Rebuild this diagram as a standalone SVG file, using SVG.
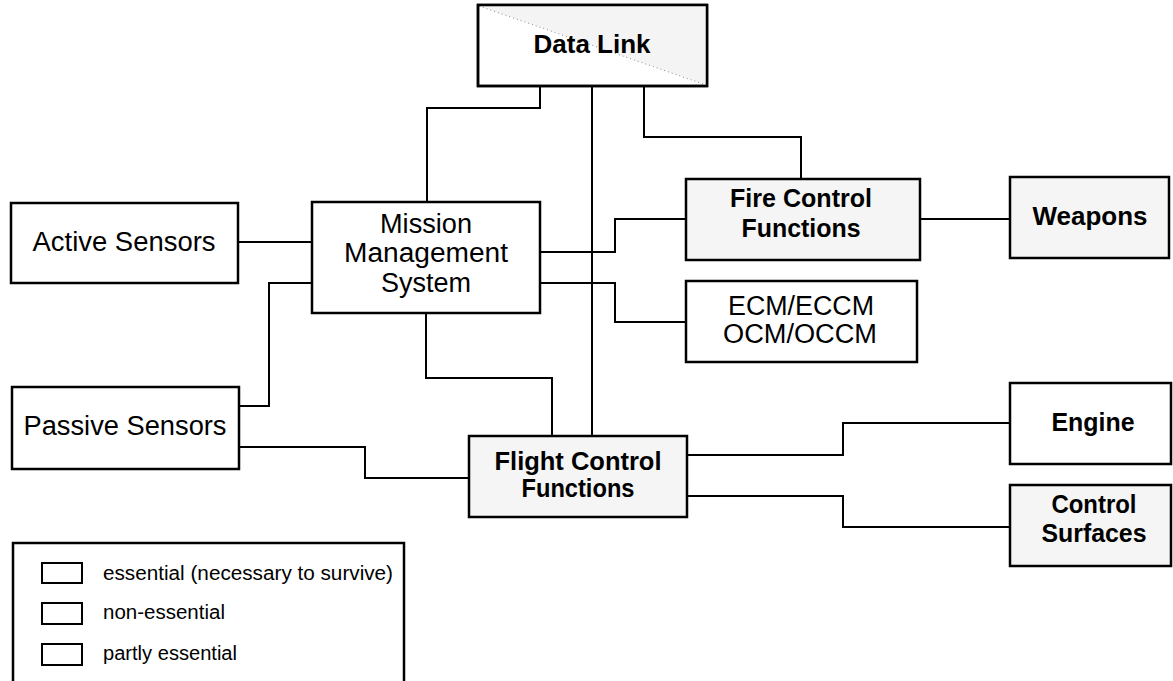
<svg xmlns="http://www.w3.org/2000/svg" width="1173" height="681" viewBox="0 0 1173 681">
  <style>
    .box { fill: #ffffff; stroke: #000000; stroke-width: 2.5; }
    .grey { fill: #f5f5f5; }
    .lbl { font-family: "Liberation Sans", Arial, sans-serif; font-size: 27px; fill: #000000; text-anchor: middle; }
    .bold { font-weight: bold; font-size: 25px; }
    .leg { font-family: "Liberation Sans", Arial, sans-serif; font-size: 20px; fill: #000000; }
    .wire { fill: none; stroke: #000000; stroke-width: 2; }
  </style>

  <rect x="0" y="0" width="1173" height="681" fill="#ffffff"/>

  <!-- connectors -->
  <g id="connectors">
    <path class="wire" d="M238,242 H312"/>
    <path class="wire" d="M239,406 H269 V283 H312"/>
    <path class="wire" d="M239,447 H365 V478 H469"/>
    <path class="wire" d="M540,252 H615 V219 H686"/>
    <path class="wire" d="M540,283 H615 V322 H686"/>
    <path class="wire" d="M426,313 V378 H552 V436"/>
    <path class="wire" d="M592,86 V436"/>
    <path class="wire" d="M540,86 V108 H427 V202"/>
    <path class="wire" d="M644,86 V137 H801 V179"/>
    <path class="wire" d="M920,219 H1010"/>
    <path class="wire" d="M687,455 H843 V423 H1010"/>
    <path class="wire" d="M687,496 H843 V527 H1010"/>
  </g>

  <!-- Data Link: partly essential, split along the diagonal -->
  <g id="data-link">
    <rect class="box" x="478" y="5" width="229" height="81"/>
    <polygon points="479,6 706,6 706,85" fill="#f4f4f4"/>
    <line x1="479" y1="6" x2="706" y2="85" stroke="#888888" stroke-width="1" stroke-dasharray="1 3"/>
    <rect x="478" y="5" width="229" height="81" fill="none" stroke="#000000" stroke-width="2.5"/>
    <text class="lbl bold" x="592" y="53" textLength="117" lengthAdjust="spacingAndGlyphs">Data Link</text>
  </g>

  <g id="active-sensors">
    <rect class="box" x="11" y="203" width="227" height="80"/>
    <text class="lbl" x="124" y="251" textLength="183" lengthAdjust="spacingAndGlyphs">Active Sensors</text>
  </g>

  <g id="passive-sensors">
    <rect class="box" x="12" y="387" width="227" height="82"/>
    <text class="lbl" x="125" y="435" textLength="203" lengthAdjust="spacingAndGlyphs">Passive Sensors</text>
  </g>

  <g id="mission-management">
    <rect class="box" x="312" y="202" width="228" height="111"/>
    <text class="lbl" x="426" y="233" textLength="92" lengthAdjust="spacingAndGlyphs">Mission</text>
    <text class="lbl" x="426" y="262" textLength="164" lengthAdjust="spacingAndGlyphs">Management</text>
    <text class="lbl" x="426" y="292" textLength="90" lengthAdjust="spacingAndGlyphs">System</text>
  </g>

  <g id="fire-control">
    <rect class="box grey" x="686" y="179" width="234" height="81"/>
    <text class="lbl bold" x="801" y="207" textLength="142" lengthAdjust="spacingAndGlyphs">Fire Control</text>
    <text class="lbl bold" x="801" y="237" textLength="119" lengthAdjust="spacingAndGlyphs">Functions</text>
  </g>

  <g id="ecm">
    <rect class="box" x="686" y="281" width="231" height="81"/>
    <text class="lbl" x="801" y="315" textLength="146" lengthAdjust="spacingAndGlyphs">ECM/ECCM</text>
    <text class="lbl" x="800" y="343" textLength="154" lengthAdjust="spacingAndGlyphs">OCM/OCCM</text>
  </g>

  <g id="weapons">
    <rect class="box grey" x="1010" y="177" width="159" height="81"/>
    <text class="lbl bold" x="1090" y="225" textLength="115" lengthAdjust="spacingAndGlyphs">Weapons</text>
  </g>

  <g id="flight-control">
    <rect class="box grey" x="469" y="436" width="218" height="81"/>
    <text class="lbl bold" x="578" y="470" textLength="167" lengthAdjust="spacingAndGlyphs">Flight Control</text>
    <text class="lbl bold" x="578" y="497" textLength="113" lengthAdjust="spacingAndGlyphs">Functions</text>
  </g>

  <g id="engine">
    <rect class="box" x="1010" y="383" width="161" height="81"/>
    <text class="lbl bold" x="1093" y="431" textLength="83" lengthAdjust="spacingAndGlyphs">Engine</text>
  </g>

  <g id="control-surfaces">
    <rect class="box grey" x="1010" y="485" width="161" height="81"/>
    <text class="lbl bold" x="1094" y="513" textLength="85" lengthAdjust="spacingAndGlyphs">Control</text>
    <text class="lbl bold" x="1094" y="542" textLength="105" lengthAdjust="spacingAndGlyphs">Surfaces</text>
  </g>

  <!-- legend -->
  <g id="legend">
    <path d="M13,681 V543 H404 V681" fill="none" stroke="#000000" stroke-width="2.5"/>
    <rect x="42" y="563" width="40" height="20" fill="#ffffff" stroke="#000000" stroke-width="2"/>
    <text class="leg" x="103" y="580" textLength="290" lengthAdjust="spacingAndGlyphs">essential (necessary to survive)</text>
    <rect x="42" y="603" width="40" height="21" fill="#ffffff" stroke="#000000" stroke-width="2"/>
    <text class="leg" x="103" y="619" textLength="122" lengthAdjust="spacingAndGlyphs">non-essential</text>
    <rect x="42" y="644" width="40" height="21" fill="#ffffff" stroke="#000000" stroke-width="2"/>
    <text class="leg" x="103" y="660" textLength="134" lengthAdjust="spacingAndGlyphs">partly essential</text>
  </g>
</svg>
